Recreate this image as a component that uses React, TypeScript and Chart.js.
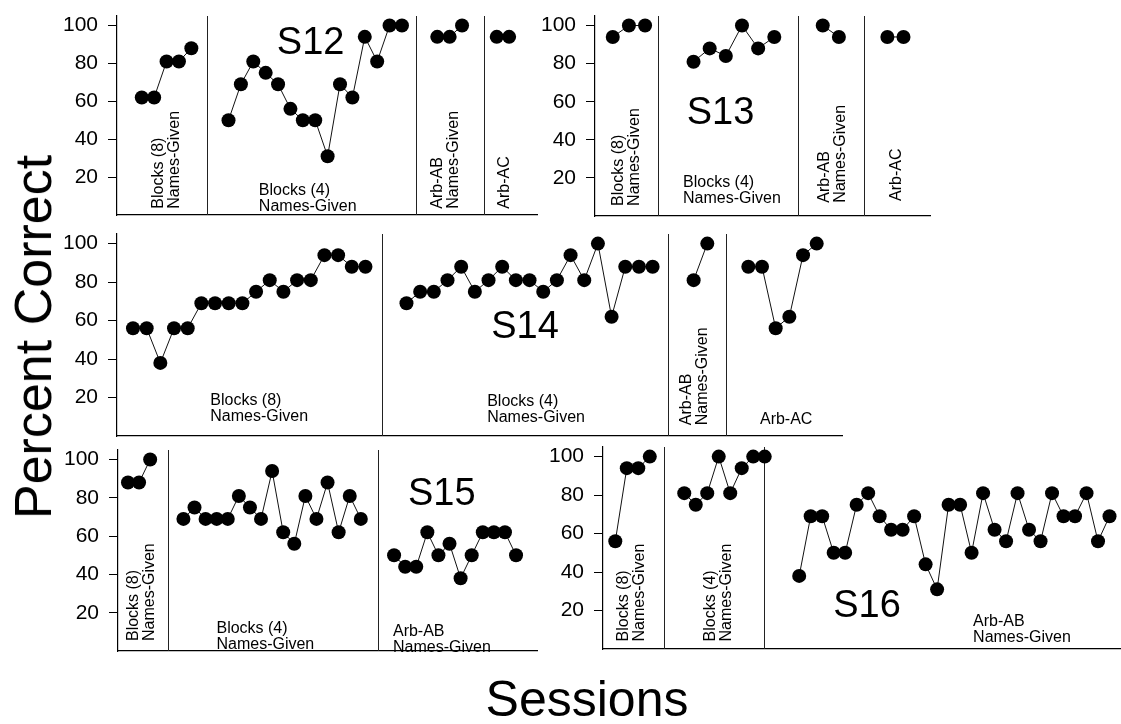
import React, { useEffect, useRef } from "react";
import { Chart, registerables } from "chart.js";

Chart.register(...registerables);

const FONT = '"Liberation Sans", Arial, Helvetica, sans-serif';

// ---------- data (percent correct per session, by phase) ----------
const Y_TICKS = [20, 40, 60, 80, 100];

const S12_BLOCKS8 = [62, 62, 81, 81, 88];
const S12_BLOCKS4 = [50, 69, 81, 75, 69, 56, 50, 50, 31, 69, 62, 94, 81, 100, 100];
const S12_ARB_AB = [94, 94, 100];
const S12_ARB_AC = [94, 94];

const S13_BLOCKS8 = [94, 100, 100];
const S13_BLOCKS4 = [81, 88, 84, 100, 88, 94];
const S13_ARB_AB = [100, 94];
const S13_ARB_AC = [94, 94];

const S14_BLOCKS8 = [56, 56, 38, 56, 56, 69, 69, 69, 69, 75, 81, 75, 81, 81, 94, 94, 88, 88];
const S14_BLOCKS4 = [69, 75, 75, 81, 88, 75, 81, 88, 81, 81, 75, 81, 94, 81, 100, 62, 88, 88, 88];
const S14_ARB_AB = [81, 100];
const S14_ARB_AC = [88, 88, 56, 62, 94, 100];

const S15_BLOCKS8 = [88, 88, 100];
const S15_BLOCKS4 = [69, 75, 69, 69, 69, 81, 75, 69, 94, 62, 56, 81, 69, 88, 62, 81, 69];
const S15_ARB_AB = [50, 44, 44, 62, 50, 56, 38, 50, 62, 62, 62, 50];

const S16_BLOCKS8 = [56, 94, 94, 100];
const S16_BLOCKS4 = [81, 75, 81, 100, 81, 94, 100, 100];
const S16_ARB_AB = [38, 69, 69, 50, 50, 75, 81, 69, 62, 62, 69, 44, 31, 75, 75, 50, 81, 62, 56, 81, 62, 56, 81, 69, 69, 81, 56, 69];

// session number at which each phase starts, and phase-change lines (session units)
const S12_STARTS = [2, 9, 25.85, 30.65];
const S12_CHANGES = [7.23, 24.17, 29.6];
const S13_STARTS = [1, 6, 14, 18];
const S13_CHANGES = [3.78, 12.47, 16.56];
const S14_STARTS = [1, 21, 42, 46];
const S14_CHANGES = [19.2, 40.1, 44.4];
const S15_STARTS = [1, 6, 25];
const S15_CHANGES = [4.61, 23.57];
const S16_STARTS = [1, 7, 17];
const S16_CHANGES = [5.26, 13.9];

const NG = "Names-Given";

type Label = { x: number; y: number; lines: string[]; rot?: boolean };
type PanelCfg = {
  name: string;
  phases: number[][];
  starts: number[];
  changes: number[];
  xMin: number;
  xMax: number;
  axisX: number;
  zeroY: number;
  ppy: number;
  rightX: number;
  labels: Label[];
  title: { x: number; y: number };
};

const Y_MAX = 105;
const AXIS_W = 60;
const PAD_T = 24;
const PAD_B = 24;
const PAD_R = 10;

const PANELS: PanelCfg[] = [
  {
    name: "S12",
    phases: [S12_BLOCKS8, S12_BLOCKS4, S12_ARB_AB, S12_ARB_AC],
    starts: S12_STARTS,
    changes: S12_CHANGES,
    xMin: 0, xMax: 33.9,
    axisX: 117, zeroY: 214.5, ppy: 1.895, rightX: 537,
    labels: [
      { x: 4.03, y: 3.3, rot: true, lines: ["Blocks (8)", NG] },
      { x: 11.45, y: 10.8, lines: ["Blocks (4)", NG] },
      { x: 26.5, y: 3.3, rot: true, lines: ["Arb-AB", NG] },
      { x: 31.3, y: 3.3, rot: true, lines: ["Arb-AC"] },
    ],
    title: { x: 12.9, y: 85.2 },
  },
  {
    name: "S13",
    phases: [S13_BLOCKS8, S13_BLOCKS4, S13_ARB_AB, S13_ARB_AC],
    starts: S13_STARTS,
    changes: S13_CHANGES,
    xMin: -0.1, xMax: 20.64,
    axisX: 595, zeroY: 215, ppy: 1.9, rightX: 930,
    labels: [
      { x: 1.88, y: 5.3, rot: true, lines: ["Blocks (8)", NG] },
      { x: 5.35, y: 15.3, lines: ["Blocks (4)", NG] },
      { x: 14.64, y: 7, rot: true, lines: ["Arb-AB", NG] },
      { x: 18.6, y: 7.9, rot: true, lines: ["Arb-AC"] },
    ],
    title: { x: 5.58, y: 48.4 },
  },
  {
    name: "S14",
    phases: [S14_BLOCKS8, S14_BLOCKS4, S14_ARB_AB, S14_ARB_AC],
    starts: S14_STARTS,
    changes: S14_CHANGES,
    xMin: -0.17, xMax: 52.85,
    axisX: 116.7, zeroY: 435.8, ppy: 1.92, rightX: 842,
    labels: [
      { x: 6.65, y: 16, lines: ["Blocks (8)", NG] },
      { x: 26.9, y: 15.5, lines: ["Blocks (4)", NG] },
      { x: 42.1, y: 5.6, rot: true, lines: ["Arb-AB", NG] },
      { x: 46.85, y: 6.1, lines: ["Arb-AC"] },
    ],
    title: { x: 27.2, y: 50.9 },
  },
  {
    name: "S15",
    phases: [S15_BLOCKS8, S15_BLOCKS4, S15_ARB_AB],
    starts: S15_STARTS,
    changes: S15_CHANGES,
    xMin: 0.1, xMax: 37.89,
    axisX: 118.3, zeroY: 651.6, ppy: 1.916, rightX: 537,
    labels: [
      { x: 2.24, y: 5.2, rot: true, lines: ["Blocks (8)", NG] },
      { x: 8.98, y: 9.2, lines: ["Blocks (4)", NG] },
      { x: 24.9, y: 7.6, lines: ["Arb-AB", NG] },
    ],
    title: { x: 26.25, y: 76.5 },
  },
  {
    name: "S16",
    phases: [S16_BLOCKS8, S16_BLOCKS4, S16_ARB_AB],
    starts: S16_STARTS,
    changes: S16_CHANGES,
    xMin: -0.07, xMax: 45.0,
    axisX: 602.7, zeroY: 649.2, ppy: 1.925, rightX: 1121,
    labels: [
      { x: 2.39, y: 3.9, rot: true, lines: ["Blocks (8)", NG] },
      { x: 9.96, y: 3.9, rot: true, lines: ["Blocks (4)", NG] },
      { x: 32.13, y: 12.1, lines: ["Arb-AB", NG] },
    ],
    title: { x: 19.96, y: 16.7 },
  },
];

function Panel({ cfg }: { cfg: PanelCfg }) {
  const ref = useRef<HTMLCanvasElement | null>(null);
  const topY = cfg.zeroY - Y_MAX * cfg.ppy;
  const left = cfg.axisX - AXIS_W;
  const top = topY - PAD_T;
  const width = cfg.rightX - cfg.axisX + AXIS_W + PAD_R;
  const height = cfg.zeroY - topY + PAD_T + PAD_B;

  useEffect(() => {
    if (!ref.current) return;
    const overlay = {
      id: "phaseOverlay",
      beforeDatasetsDraw(chart: any) {
        const { ctx, chartArea, scales } = chart;
        ctx.save();
        ctx.strokeStyle = "#222";
        ctx.lineWidth = 1;
        cfg.changes.forEach((b) => {
          const x = Math.round(scales.x.getPixelForValue(b)) + 0.5;
          ctx.beginPath();
          ctx.moveTo(x, chartArea.top);
          ctx.lineTo(x, chartArea.bottom);
          ctx.stroke();
        });
        ctx.restore();
      },
      afterDatasetsDraw(chart: any) {
        const { ctx, scales } = chart;
        ctx.save();
        ctx.fillStyle = "#000";
        const LH = 16;
        cfg.labels.forEach((lb) => {
          const px = scales.x.getPixelForValue(lb.x);
          const py = scales.y.getPixelForValue(lb.y);
          ctx.font = `16px ${FONT}`;
          if (lb.rot) {
            ctx.save();
            ctx.translate(px, py);
            ctx.rotate(-Math.PI / 2);
            ctx.textAlign = "left";
            ctx.textBaseline = "middle";
            const n = lb.lines.length;
            lb.lines.forEach((t, i) => {
              ctx.fillText(t, 0, (i - (n - 1) / 2) * LH);
            });
            ctx.restore();
          } else {
            ctx.textAlign = "left";
            ctx.textBaseline = "alphabetic";
            lb.lines.forEach((t, i) => {
              ctx.fillText(t, px, py + i * LH);
            });
          }
        });
        ctx.font = `38px ${FONT}`;
        ctx.textAlign = "left";
        ctx.textBaseline = "alphabetic";
        ctx.fillText(
          cfg.name,
          scales.x.getPixelForValue(cfg.title.x),
          scales.y.getPixelForValue(cfg.title.y)
        );
        ctx.restore();
      },
    };

    const chart = new Chart(ref.current, {
      type: "scatter",
      data: {
        datasets: cfg.phases.map((vals, k) => ({
          data: vals.map((v, i) => ({ x: cfg.starts[k] + i, y: v })),
          showLine: true,
          borderColor: "#111",
          borderWidth: 1,
          pointRadius: 7,
          pointHoverRadius: 7,
          pointBackgroundColor: "#000",
          pointBorderColor: "#000",
          pointBorderWidth: 0,
          clip: false as any,
        })),
      },
      options: {
        responsive: false,
        animation: false,
        events: [],
        layout: { padding: { left: 0, right: PAD_R, top: PAD_T, bottom: PAD_B } },
        plugins: {
          legend: { display: false },
          tooltip: { enabled: false },
          title: { display: false },
        },
        scales: {
          x: {
            type: "linear",
            min: cfg.xMin,
            max: cfg.xMax,
            ticks: { display: false },
            grid: { display: false, drawTicks: false },
            border: { display: true, color: "#000", width: 1.2 },
            afterFit: (s: any) => {
              s.height = 0;
            },
          },
          y: {
            type: "linear",
            min: 0,
            max: Y_MAX,
            afterBuildTicks: (s: any) => {
              s.ticks = Y_TICKS.map((v) => ({ value: v }));
            },
            ticks: {
              color: "#000",
              font: { family: FONT, size: 21 },
              padding: 10,
            },
            grid: {
              display: true,
              drawOnChartArea: false,
              drawTicks: true,
              tickLength: 9,
              color: "#000",
              lineWidth: 1,
            },
            border: { display: true, color: "#000", width: 1.2 },
            afterFit: (s: any) => {
              s.width = AXIS_W;
            },
          },
        },
      } as any,
      plugins: [overlay],
    });
    return () => chart.destroy();
  }, [cfg]);

  return (
    <canvas
      ref={ref}
      width={Math.round(width)}
      height={Math.round(height)}
      style={{
        position: "absolute",
        left,
        top,
        width: Math.round(width),
        height: Math.round(height),
      }}
    />
  );
}

export default function App() {
  return (
    <div
      style={{
        position: "absolute",
        left: 0,
        top: 0,
        width: 1121,
        height: 724,
        overflow: "hidden",
        background: "#fff",
        fontFamily: FONT,
      }}
    >
      {PANELS.map((p) => (
        <Panel key={p.name} cfg={p} />
      ))}
      <div
        style={{
          position: "absolute",
          left: 33,
          top: 337,
          transform: "translate(-50%, -50%) rotate(-90deg)",
          whiteSpace: "nowrap",
          fontSize: 52,
          color: "#000",
          lineHeight: 1,
        }}
      >
        Percent Correct
      </div>
      <div
        style={{
          position: "absolute",
          left: 587,
          top: 699,
          transform: "translate(-50%, -50%)",
          whiteSpace: "nowrap",
          fontSize: 50,
          color: "#000",
          lineHeight: 1,
        }}
      >
        Sessions
      </div>
    </div>
  );
}
